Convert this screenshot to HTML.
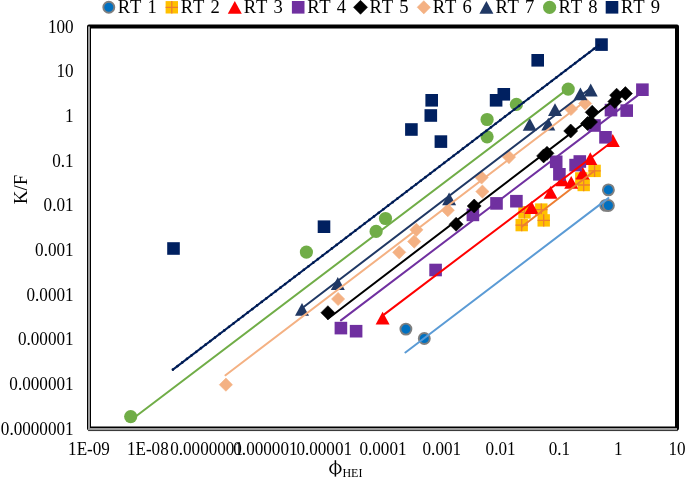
<!DOCTYPE html><html><head><meta charset="utf-8"><style>html,body{margin:0;padding:0;background:#fff;}body{width:685px;height:478px;overflow:hidden;font-family:"Liberation Serif",serif;}svg{display:block;will-change:transform;}</style></head><body><svg width="685" height="478" viewBox="0 0 685 478">
<rect width="685" height="478" fill="#fff"/>
<text transform="translate(73.6 32.5) scale(0.96 1)" text-anchor="end" font-family="Liberation Serif, serif" font-size="17.85">100</text>
<text transform="translate(73.6 77.2) scale(0.96 1)" text-anchor="end" font-family="Liberation Serif, serif" font-size="17.85">10</text>
<text transform="translate(73.6 121.8) scale(0.96 1)" text-anchor="end" font-family="Liberation Serif, serif" font-size="17.85">1</text>
<text transform="translate(73.6 166.5) scale(0.96 1)" text-anchor="end" font-family="Liberation Serif, serif" font-size="17.85">0.1</text>
<text transform="translate(73.6 211.2) scale(0.96 1)" text-anchor="end" font-family="Liberation Serif, serif" font-size="17.85">0.01</text>
<text transform="translate(73.6 255.8) scale(0.96 1)" text-anchor="end" font-family="Liberation Serif, serif" font-size="17.85">0.001</text>
<text transform="translate(73.6 300.5) scale(0.96 1)" text-anchor="end" font-family="Liberation Serif, serif" font-size="17.85">0.0001</text>
<text transform="translate(73.6 345.2) scale(0.96 1)" text-anchor="end" font-family="Liberation Serif, serif" font-size="17.85">0.00001</text>
<text transform="translate(73.6 389.8) scale(0.96 1)" text-anchor="end" font-family="Liberation Serif, serif" font-size="17.85">0.000001</text>
<text transform="translate(73.6 434.5) scale(0.96 1)" text-anchor="end" font-family="Liberation Serif, serif" font-size="17.85">0.0000001</text>
<text transform="translate(89.0 455.2) scale(0.96 1)" text-anchor="middle" font-family="Liberation Serif, serif" font-size="17.85">1E-09</text>
<text transform="translate(147.8 455.2) scale(0.96 1)" text-anchor="middle" font-family="Liberation Serif, serif" font-size="17.85">1E-08</text>
<text transform="translate(206.6 455.2) scale(0.96 1)" text-anchor="middle" font-family="Liberation Serif, serif" font-size="17.85">0.0000001</text>
<text transform="translate(265.4 455.2) scale(0.96 1)" text-anchor="middle" font-family="Liberation Serif, serif" font-size="17.85">0.000001</text>
<text transform="translate(324.2 455.2) scale(0.96 1)" text-anchor="middle" font-family="Liberation Serif, serif" font-size="17.85">0.00001</text>
<text transform="translate(383.0 455.2) scale(0.96 1)" text-anchor="middle" font-family="Liberation Serif, serif" font-size="17.85">0.0001</text>
<text transform="translate(441.8 455.2) scale(0.96 1)" text-anchor="middle" font-family="Liberation Serif, serif" font-size="17.85">0.001</text>
<text transform="translate(500.6 455.2) scale(0.96 1)" text-anchor="middle" font-family="Liberation Serif, serif" font-size="17.85">0.01</text>
<text transform="translate(559.4 455.2) scale(0.96 1)" text-anchor="middle" font-family="Liberation Serif, serif" font-size="17.85">0.1</text>
<text transform="translate(618.2 455.2) scale(0.96 1)" text-anchor="middle" font-family="Liberation Serif, serif" font-size="17.85">1</text>
<text transform="translate(677.0 455.2) scale(0.96 1)" text-anchor="middle" font-family="Liberation Serif, serif" font-size="17.85">10</text>
<text transform="translate(26.9,189.5) rotate(-90)" text-anchor="middle" font-family="Liberation Serif, serif" font-size="19">K/F</text>
<path fill-rule="evenodd" fill="#000" d="M329.2 468.9a6.2 5.6 0 1 0 12.4 0a6.2 5.6 0 1 0 -12.4 0ZM331.0 468.9a4.4 4.9 0 1 0 8.8 0a4.4 4.9 0 1 0 -8.8 0Z"/>
<path d="M335.4 460.2V476.6" stroke="#000" stroke-width="1.5"/>
<text x="342.4" y="477" font-family="Liberation Serif, serif" font-size="12">HEI</text>
<rect x="89.0" y="26.5" width="588.0" height="402.0" fill="none" stroke="#000" stroke-width="4" stroke-linejoin="round"/>
<path d="M89.0 26.5V429.0H677.0" fill="none" stroke="#9C9C9C" stroke-width="2"/>
<path d="M88.0 430.6H678.0" fill="none" stroke="#000" stroke-width="0.6"/>
<circle cx="405.9" cy="329.1" r="5.5" fill="#0070C0" stroke="#7F7F7F" stroke-width="1.9"/>
<circle cx="424.3" cy="338.5" r="5.5" fill="#0070C0" stroke="#7F7F7F" stroke-width="1.9"/>
<circle cx="608.4" cy="189.9" r="5.5" fill="#0070C0" stroke="#7F7F7F" stroke-width="1.9"/>
<circle cx="605.7" cy="205.4" r="5.5" fill="#0070C0" stroke="#7F7F7F" stroke-width="1.9"/>
<circle cx="608.4" cy="205.5" r="5.5" fill="#0070C0" stroke="#7F7F7F" stroke-width="1.9"/>
<rect x="515.5" y="218.9" width="12.4" height="12.4" fill="#FFC000"/><path d="M521.7 218.9V231.3M515.5 225.1H527.9" stroke="#ED7D31" stroke-width="1.3"/>
<rect x="518.3" y="206.2" width="12.4" height="12.4" fill="#FFC000"/><path d="M524.5 206.2V218.6M518.3 212.4H530.7" stroke="#ED7D31" stroke-width="1.3"/>
<rect x="535.1" y="203.4" width="12.4" height="12.4" fill="#FFC000"/><path d="M541.3 203.4V215.8M535.1 209.6H547.5" stroke="#ED7D31" stroke-width="1.3"/>
<rect x="537.5" y="214.2" width="12.4" height="12.4" fill="#FFC000"/><path d="M543.7 214.2V226.6M537.5 220.4H549.9" stroke="#ED7D31" stroke-width="1.3"/>
<rect x="575.1" y="172.2" width="12.4" height="12.4" fill="#FFC000"/><path d="M581.3 172.2V184.6M575.1 178.4H587.5" stroke="#ED7D31" stroke-width="1.3"/>
<rect x="577.5" y="178.8" width="12.4" height="12.4" fill="#FFC000"/><path d="M583.7 178.8V191.2M577.5 185.0H589.9" stroke="#ED7D31" stroke-width="1.3"/>
<rect x="588.4" y="164.7" width="12.4" height="12.4" fill="#FFC000"/><path d="M594.6 164.7V177.1M588.4 170.9H600.8" stroke="#ED7D31" stroke-width="1.3"/>
<path d="M382.6 311.7L389.6 324.5L375.6 324.5Z" fill="#FF0000"/>
<path d="M531.5 201.1L538.5 213.9L524.5 213.9Z" fill="#FF0000"/>
<path d="M550.6 186.0L557.6 198.8L543.6 198.8Z" fill="#FF0000"/>
<path d="M562.4 173.4L569.4 186.2L555.4 186.2Z" fill="#FF0000"/>
<path d="M571.2 176.0L578.2 188.8L564.2 188.8Z" fill="#FF0000"/>
<path d="M582.6 166.6L589.6 179.4L575.6 179.4Z" fill="#FF0000"/>
<path d="M590.3 152.3L597.3 165.1L583.3 165.1Z" fill="#FF0000"/>
<path d="M612.8 134.1L619.8 146.9L605.8 146.9Z" fill="#FF0000"/>
<rect x="334.6" y="321.8" width="12.6" height="12.6" fill="#7030A0"/>
<rect x="349.8" y="324.9" width="12.6" height="12.6" fill="#7030A0"/>
<rect x="429.3" y="263.7" width="12.6" height="12.6" fill="#7030A0"/>
<rect x="466.6" y="208.6" width="12.6" height="12.6" fill="#7030A0"/>
<rect x="490.2" y="197.1" width="12.6" height="12.6" fill="#7030A0"/>
<rect x="510.1" y="194.9" width="12.6" height="12.6" fill="#7030A0"/>
<rect x="549.9" y="155.5" width="12.6" height="12.6" fill="#7030A0"/>
<rect x="553.1" y="168.0" width="12.6" height="12.6" fill="#7030A0"/>
<rect x="573.5" y="155.2" width="12.6" height="12.6" fill="#7030A0"/>
<rect x="569.3" y="158.8" width="12.6" height="12.6" fill="#7030A0"/>
<rect x="588.2" y="119.2" width="12.6" height="12.6" fill="#7030A0"/>
<rect x="599.2" y="131.0" width="12.6" height="12.6" fill="#7030A0"/>
<rect x="604.7" y="103.8" width="12.6" height="12.6" fill="#7030A0"/>
<rect x="620.4" y="104.3" width="12.6" height="12.6" fill="#7030A0"/>
<rect x="636.1" y="83.4" width="12.6" height="12.6" fill="#7030A0"/>
<path d="M327.9 305.7L334.9 312.7L327.9 319.7L320.9 312.7Z" fill="#000000" stroke="#000000" stroke-width="0.6" stroke-linejoin="round"/>
<path d="M456.1 217.3L463.1 224.3L456.1 231.3L449.1 224.3Z" fill="#000000" stroke="#000000" stroke-width="0.6" stroke-linejoin="round"/>
<path d="M474.2 199.0L481.2 206.0L474.2 213.0L467.2 206.0Z" fill="#000000" stroke="#000000" stroke-width="0.6" stroke-linejoin="round"/>
<path d="M547.0 146.3L554.0 153.3L547.0 160.3L540.0 153.3Z" fill="#000000" stroke="#000000" stroke-width="0.6" stroke-linejoin="round"/>
<path d="M543.6 148.9L550.6 155.9L543.6 162.9L536.6 155.9Z" fill="#000000" stroke="#000000" stroke-width="0.6" stroke-linejoin="round"/>
<path d="M570.7 124.0L577.7 131.0L570.7 138.0L563.7 131.0Z" fill="#000000" stroke="#000000" stroke-width="0.6" stroke-linejoin="round"/>
<path d="M587.5 116.5L594.5 123.5L587.5 130.5L580.5 123.5Z" fill="#000000" stroke="#000000" stroke-width="0.6" stroke-linejoin="round"/>
<path d="M590.5 115.0L597.5 122.0L590.5 129.0L583.5 122.0Z" fill="#000000" stroke="#000000" stroke-width="0.6" stroke-linejoin="round"/>
<path d="M592.2 105.3L599.2 112.3L592.2 119.3L585.2 112.3Z" fill="#000000" stroke="#000000" stroke-width="0.6" stroke-linejoin="round"/>
<path d="M616.6 88.2L623.6 95.2L616.6 102.2L609.6 95.2Z" fill="#000000" stroke="#000000" stroke-width="0.6" stroke-linejoin="round"/>
<path d="M625.4 86.6L632.4 93.6L625.4 100.6L618.4 93.6Z" fill="#000000" stroke="#000000" stroke-width="0.6" stroke-linejoin="round"/>
<path d="M614.8 94.5L621.8 101.5L614.8 108.5L607.8 101.5Z" fill="#000000" stroke="#000000" stroke-width="0.6" stroke-linejoin="round"/>
<path d="M225.9 378.1L232.5 384.7L225.9 391.3L219.3 384.7Z" fill="#F4B183" stroke="#F4B183" stroke-width="0.6" stroke-linejoin="round"/>
<path d="M338.1 292.4L344.7 299.0L338.1 305.6L331.5 299.0Z" fill="#F4B183" stroke="#F4B183" stroke-width="0.6" stroke-linejoin="round"/>
<path d="M399.2 245.7L405.8 252.3L399.2 258.9L392.6 252.3Z" fill="#F4B183" stroke="#F4B183" stroke-width="0.6" stroke-linejoin="round"/>
<path d="M414.2 235.0L420.8 241.6L414.2 248.2L407.6 241.6Z" fill="#F4B183" stroke="#F4B183" stroke-width="0.6" stroke-linejoin="round"/>
<path d="M416.4 223.2L423.0 229.8L416.4 236.4L409.8 229.8Z" fill="#F4B183" stroke="#F4B183" stroke-width="0.6" stroke-linejoin="round"/>
<path d="M447.8 203.6L454.4 210.2L447.8 216.8L441.2 210.2Z" fill="#F4B183" stroke="#F4B183" stroke-width="0.6" stroke-linejoin="round"/>
<path d="M481.6 170.9L488.2 177.5L481.6 184.1L475.0 177.5Z" fill="#F4B183" stroke="#F4B183" stroke-width="0.6" stroke-linejoin="round"/>
<path d="M482.4 185.0L489.0 191.6L482.4 198.2L475.8 191.6Z" fill="#F4B183" stroke="#F4B183" stroke-width="0.6" stroke-linejoin="round"/>
<path d="M509.0 150.5L515.6 157.1L509.0 163.7L502.4 157.1Z" fill="#F4B183" stroke="#F4B183" stroke-width="0.6" stroke-linejoin="round"/>
<path d="M571.0 102.4L577.6 109.0L571.0 115.6L564.4 109.0Z" fill="#F4B183" stroke="#F4B183" stroke-width="0.6" stroke-linejoin="round"/>
<path d="M585.1 96.9L591.7 103.5L585.1 110.1L578.5 103.5Z" fill="#F4B183" stroke="#F4B183" stroke-width="0.6" stroke-linejoin="round"/>
<path d="M302.0 303.0L309.0 315.8L295.0 315.8Z" fill="#203864"/>
<path d="M337.8 277.1L344.8 289.9L330.8 289.9Z" fill="#203864"/>
<path d="M449.1 192.5L456.1 205.3L442.1 205.3Z" fill="#203864"/>
<path d="M529.7 118.0L536.7 130.8L522.7 130.8Z" fill="#203864"/>
<path d="M548.3 117.8L555.3 130.6L541.3 130.6Z" fill="#203864"/>
<path d="M555.0 103.2L562.0 116.0L548.0 116.0Z" fill="#203864"/>
<path d="M580.4 87.4L587.4 100.2L573.4 100.2Z" fill="#203864"/>
<path d="M590.7 83.6L597.7 96.4L583.7 96.4Z" fill="#203864"/>
<circle cx="130.7" cy="416.6" r="6.6" fill="#70AD47"/>
<circle cx="306.4" cy="252.1" r="6.6" fill="#70AD47"/>
<circle cx="376.1" cy="231.4" r="6.6" fill="#70AD47"/>
<circle cx="385.5" cy="218.5" r="6.6" fill="#70AD47"/>
<circle cx="487.1" cy="119.5" r="6.6" fill="#70AD47"/>
<circle cx="487.1" cy="136.8" r="6.6" fill="#70AD47"/>
<circle cx="516.4" cy="104.4" r="6.6" fill="#70AD47"/>
<circle cx="568.2" cy="89.1" r="6.6" fill="#70AD47"/>
<rect x="167.2" y="242.2" width="12.6" height="12.6" fill="#002060"/>
<rect x="317.7" y="220.4" width="12.6" height="12.6" fill="#002060"/>
<rect x="405.1" y="123.2" width="12.6" height="12.6" fill="#002060"/>
<rect x="425.4" y="94.0" width="12.6" height="12.6" fill="#002060"/>
<rect x="424.5" y="109.2" width="12.6" height="12.6" fill="#002060"/>
<rect x="434.6" y="135.3" width="12.6" height="12.6" fill="#002060"/>
<rect x="489.8" y="94.0" width="12.6" height="12.6" fill="#002060"/>
<rect x="497.5" y="88.0" width="12.6" height="12.6" fill="#002060"/>
<rect x="531.4" y="54.0" width="12.6" height="12.6" fill="#002060"/>
<rect x="595.2" y="38.3" width="12.6" height="12.6" fill="#002060"/>
<line x1="405.4" y1="352.5" x2="608.4" y2="198.1" stroke="#5B9BD5" stroke-width="2.0" stroke-linecap="round"/>
<line x1="521.7" y1="226.8" x2="594.6" y2="170.7" stroke="#ED7D31" stroke-width="2.0" stroke-linecap="round"/>
<line x1="382.6" y1="315.6" x2="612.8" y2="141.3" stroke="#FF0000" stroke-width="2.0" stroke-linecap="round"/>
<line x1="340.9" y1="320.4" x2="642.4" y2="91.9" stroke="#7030A0" stroke-width="2.0" stroke-linecap="round"/>
<line x1="327.9" y1="318.7" x2="625.4" y2="91.6" stroke="#000000" stroke-width="2.0" stroke-linecap="round"/>
<line x1="225.5" y1="375.3" x2="585.1" y2="101.3" stroke="#F4B183" stroke-width="2.0" stroke-linecap="round"/>
<line x1="302.0" y1="308.2" x2="590.7" y2="88.0" stroke="#203864" stroke-width="2.0" stroke-linecap="round"/>
<line x1="130.7" y1="420.2" x2="568.2" y2="88.6" stroke="#70AD47" stroke-width="2.0" stroke-linecap="round"/>
<line x1="172.9" y1="369.6" x2="601.5" y2="43.1" stroke="#002060" stroke-width="2.0" stroke-linecap="round"/>
<line x1="172.9" y1="369.6" x2="601.5" y2="43.1" stroke="#001a4d" stroke-width="2.7" stroke-dasharray="0 5.88" stroke-linecap="round"/>
<circle cx="108.8" cy="7.3" r="5.5" fill="#0070C0" stroke="#7F7F7F" stroke-width="1.9"/>
<text x="117.8" y="13.25" font-family="Liberation Serif, serif" font-size="18.6" letter-spacing="0.9">RT 1</text>
<rect x="165.6" y="1.1" width="12.4" height="12.4" fill="#FFC000"/><path d="M171.8 1.1V13.5M165.6 7.3H178.0" stroke="#ED7D31" stroke-width="1.3"/>
<text x="180.8" y="13.25" font-family="Liberation Serif, serif" font-size="18.6" letter-spacing="0.9">RT 2</text>
<path d="M234.8 0.9L241.8 13.7L227.8 13.7Z" fill="#FF0000"/>
<text x="243.8" y="13.25" font-family="Liberation Serif, serif" font-size="18.6" letter-spacing="0.9">RT 3</text>
<rect x="291.9" y="1.0" width="12.6" height="12.6" fill="#7030A0"/>
<text x="307.2" y="13.25" font-family="Liberation Serif, serif" font-size="18.6" letter-spacing="0.9">RT 4</text>
<path d="M360.5 0.3L367.5 7.3L360.5 14.3L353.5 7.3Z" fill="#000000" stroke="#000000" stroke-width="0.6" stroke-linejoin="round"/>
<text x="369.5" y="13.25" font-family="Liberation Serif, serif" font-size="18.6" letter-spacing="0.9">RT 5</text>
<path d="M423.8 0.7L430.4 7.3L423.8 13.9L417.2 7.3Z" fill="#F4B183" stroke="#F4B183" stroke-width="0.6" stroke-linejoin="round"/>
<text x="432.8" y="13.25" font-family="Liberation Serif, serif" font-size="18.6" letter-spacing="0.9">RT 6</text>
<path d="M486.4 0.9L493.4 13.7L479.4 13.7Z" fill="#203864"/>
<text x="495.4" y="13.25" font-family="Liberation Serif, serif" font-size="18.6" letter-spacing="0.9">RT 7</text>
<circle cx="549.6" cy="7.3" r="6.6" fill="#70AD47"/>
<text x="558.6" y="13.25" font-family="Liberation Serif, serif" font-size="18.6" letter-spacing="0.9">RT 8</text>
<rect x="605.7" y="1.0" width="12.6" height="12.6" fill="#002060"/>
<text x="621.0" y="13.25" font-family="Liberation Serif, serif" font-size="18.6" letter-spacing="0.9">RT 9</text>
</svg></body></html>
